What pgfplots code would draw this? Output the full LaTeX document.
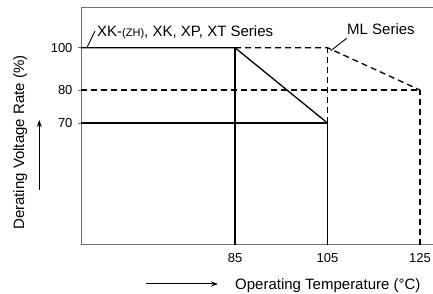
\documentclass[border=0pt]{standalone}
\usepackage{fontspec}
\setmainfont{Liberation Sans}
\usepackage{pgfplots}
\pgfplotsset{compat=1.18}
\usetikzlibrary{arrows.meta}
\definecolor{axgray}{HTML}{707070}
\begin{document}
\begin{tikzpicture}[x=1pt,y=1pt]
\begin{axis}[
  at={(81pt,49pt)}, anchor=south west,
  scale only axis, width=357.5pt, height=237pt,
  xmin=51.7, xmax=129, ymin=33.03, ymax=118.8,
  y coord trafo/.code={\pgfmathparse{ifthenelse(#1<80,122+(#1-70)*3.3,155+(#1-80)*2.115)}},
  y coord inv trafo/.code={\pgfmathparse{ifthenelse(#1<155,70+(#1-122)/3.3,80+(#1-155)/2.115)}},
  axis x line=box, axis y line=left,
  axis line style={-, draw=axgray, line width=1pt},
  xtick={85,105,125}, ytick={70,80,100},
  xtick style={draw=none},
  ytick style={draw=axgray, line width=0.8pt},
  tick align=outside, major tick length=3pt,
  /pgf/number format/assume math mode=true,
  ticklabel style={font=\fontsize{13}{15}\selectfont},
  yticklabel style={xshift=-2pt},
  xticklabel style={yshift=-1.5pt},
  clip=false,
]
% XK series (solid)
\addplot[black, line width=1.3pt] coordinates {(51.7,100) (85,100) (105,70)};
\addplot[black, line width=1.3pt] coordinates {(51.7,70) (105,70)};
\addplot[black, line width=1.3pt] coordinates {(85,33.03) (85,100)};
\addplot[black, line width=1.3pt] coordinates {(105,33.03) (105,70)};
% ML series (dashed)
\addplot[black, line width=1.3pt, dash pattern=on 6pt off 4pt] coordinates {(85,100) (105,100) (125,80)};
\addplot[black, line width=1.3pt, dash pattern=on 6pt off 4pt] coordinates {(51.7,80) (125,80)};
\addplot[black, line width=1.3pt, dash pattern=on 6pt off 4pt] coordinates {(105,70) (105,100)};
\addplot[black, line width=1.3pt, dash pattern=on 6pt off 4pt] coordinates {(125,33.03) (125,80)};
\end{axis}
% annotations
\node[anchor=base west, inner sep=0pt, font=\fontsize{15}{17}\selectfont] at (97,257) {XK-{\fontsize{11}{13}\selectfont(ZH)}, XK, XP, XT Series};
\draw[black, line width=0.9pt] (87,246.5) -- (95,263);
\node[anchor=base west, inner sep=0pt, font=\fontsize{15}{17}\selectfont] at (347,259) {ML Series};
\draw[black, line width=0.9pt] (330.7,243.3) -- (346.7,255.7);
\node[anchor=base west, inner sep=0pt, font=\fontsize{15}{17}\selectfont] at (235,4) {Operating Temperature (°C)};
\draw[black, line width=1pt, -{Stealth[length=7pt,width=5pt]}] (146,10) -- (218,10);
\node[anchor=base west, inner sep=0pt, rotate=90, font=\fontsize{15}{17}\selectfont] at (24,64) {Derating Voltage Rate (\%)};
\draw[black, line width=1pt, -{Stealth[length=7pt,width=5pt]}] (39.3,104) -- (39.3,174);
\pgfresetboundingbox
\useasboundingbox (0,0) rectangle (433,294);
\end{tikzpicture}
\end{document}
